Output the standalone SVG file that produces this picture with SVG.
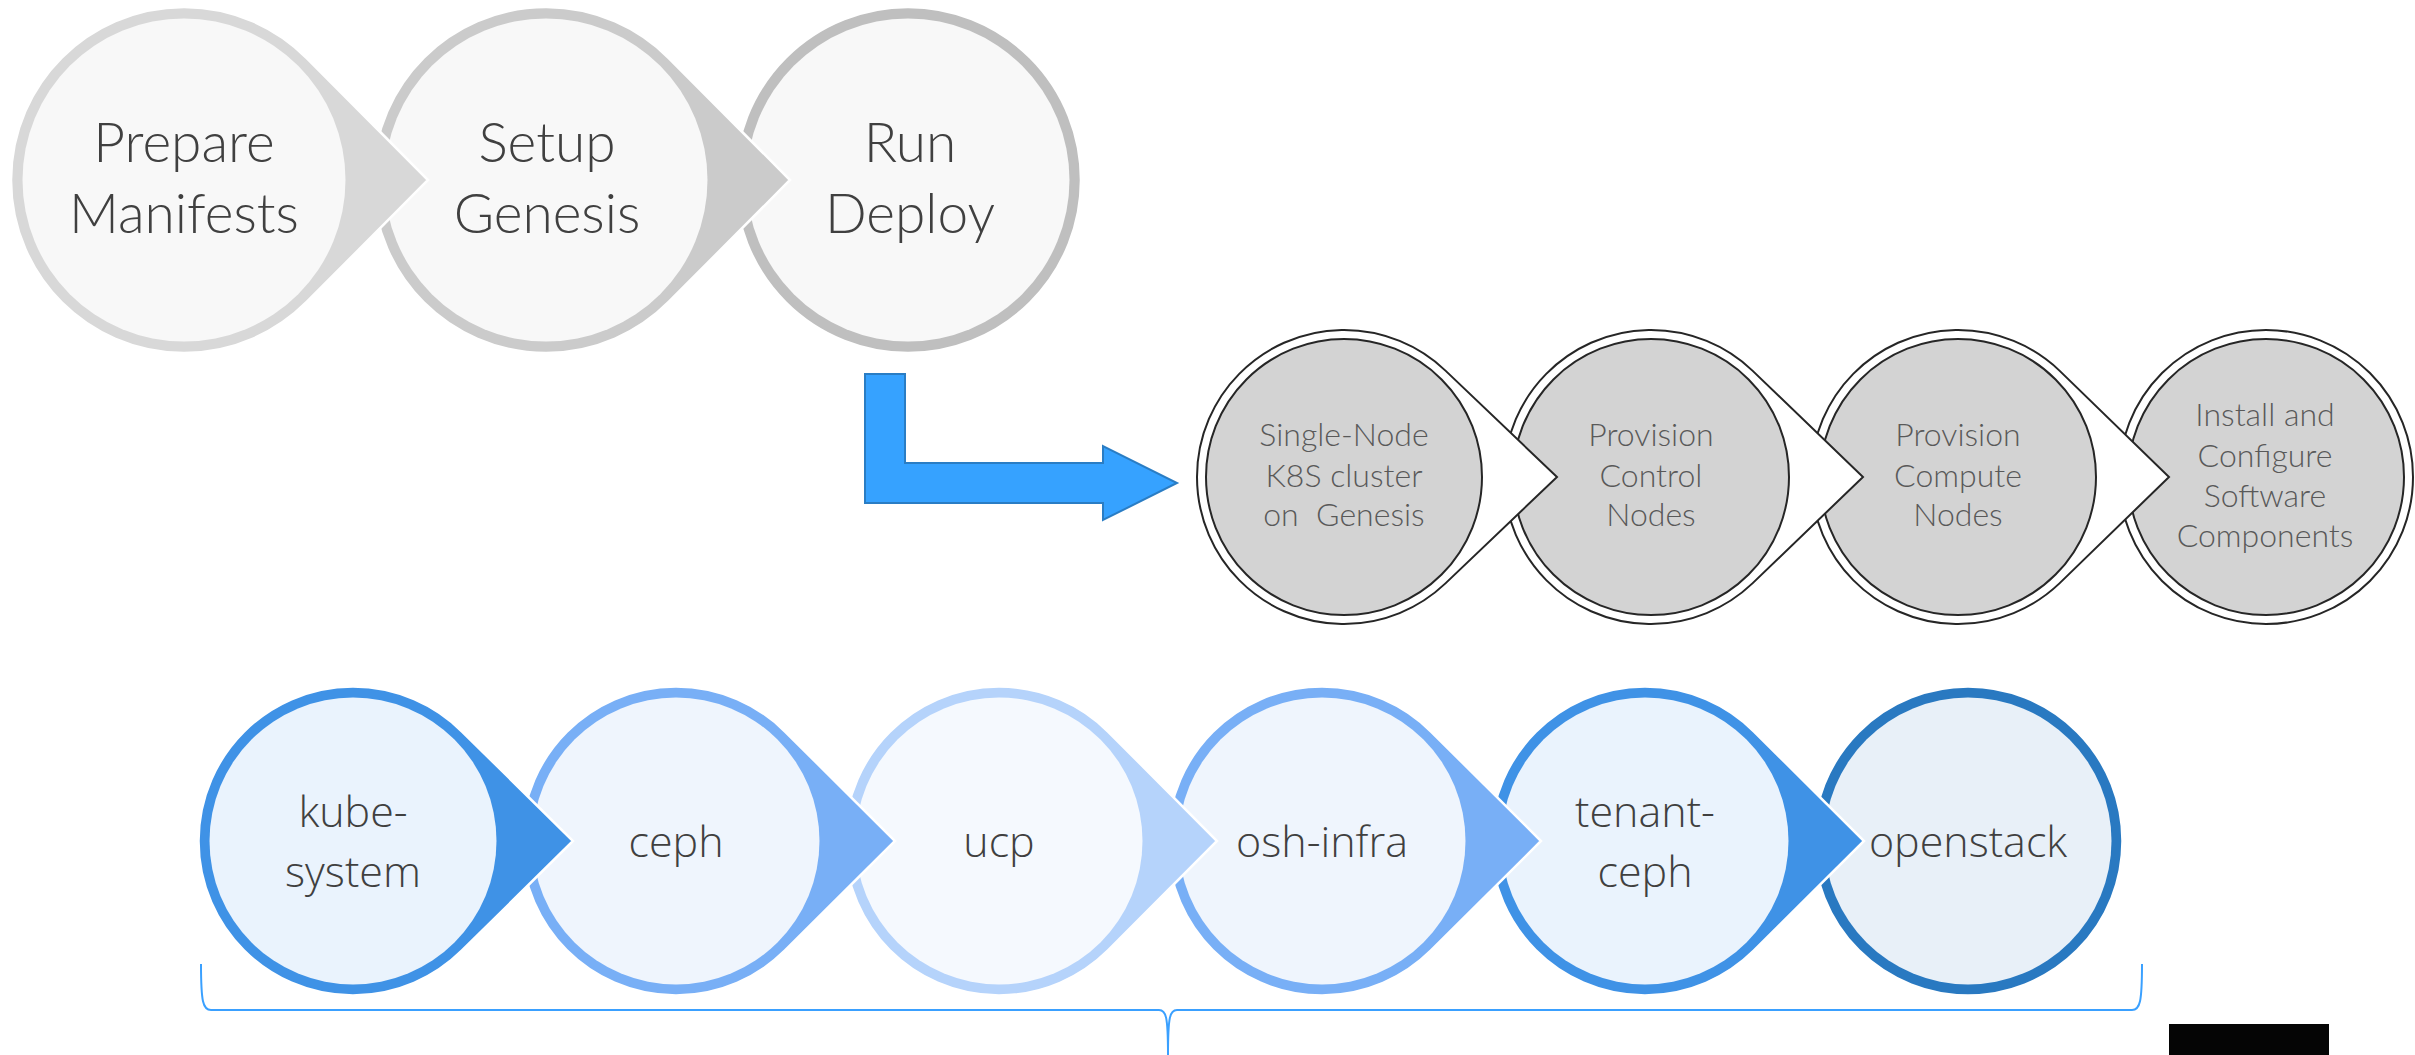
<svg xmlns="http://www.w3.org/2000/svg" width="2415" height="1055" viewBox="0 0 2415 1055">
<style>
  .t1 { font-family: Lato, "Liberation Sans", sans-serif; font-weight: 300; font-size: 55px; fill: #404040; text-anchor: middle; }
  .t2 { font-family: Lato, "Liberation Sans", sans-serif; font-weight: 300; font-size: 32px; fill: #595959; text-anchor: middle; }
  .t3 { font-family: "Open Sans", "Liberation Sans", sans-serif; font-weight: 300; font-size: 43px; fill: #404040; text-anchor: middle; }
  .o1 { stroke: #ffffff; stroke-width: 2.5; }
  .in1 { fill: #f8f8f8; }
  .o2 { fill: #ffffff; stroke: #262626; stroke-width: 2; }
  .in2 { fill: #d3d3d3; stroke: #262626; stroke-width: 2; }
  .o3 { stroke: #ffffff; stroke-width: 2.5; }
</style>
<rect width="2415" height="1055" fill="#ffffff"/>

<!-- Row 1 (drawn right to left so left tips overlap) -->
<g id="run-deploy">
  <circle class="o1" cx="908" cy="180" r="173" fill="#bfbfbf"/>
  <circle class="in1" cx="908" cy="180" r="161.5"/>
  <text class="t1" x="910" y="162">Run</text>
  <text class="t1" x="910" y="233">Deploy</text>
</g>
<g id="setup-genesis">
  <path class="o1" fill="#cbcbcb" d="M668.66,58 L790,180 L668.66,302 A173,173 0 1 1 668.66,58 Z"/>
  <circle class="in1" cx="546" cy="180" r="161.5"/>
  <text class="t1" x="547" y="162">Setup</text>
  <text class="t1" x="547" y="233">Genesis</text>
</g>
<g id="prepare-manifests">
  <path class="o1" fill="#d8d8d8" d="M306.66,58 L428,180 L306.66,302 A173,173 0 1 1 306.66,58 Z"/>
  <circle class="in1" cx="184" cy="180" r="161.5"/>
  <text class="t1" x="184" y="162">Prepare</text>
  <text class="t1" x="184" y="233">Manifests</text>
</g>

<!-- Connectors -->
<g id="connectors">
  <polygon points="865,374 905,374 905,463 1103,463 1103,446 1177,483 1103,520 1103,503 865,503" fill="#36a2ff" stroke="#2a7dc4" stroke-width="2"/>
  <path d="M201,964 C201,1002 203,1010 211,1010 L1159,1010 C1166,1010 1168,1016 1168,1055 M1168,1055 C1168,1016 1170,1010 1177,1010 L2132,1010 C2140,1010 2142,1002 2142,964" fill="none" stroke="#3aa0ff" stroke-width="2"/>
</g>

<!-- Row 2 -->
<g id="install-configure">
  <circle class="o2" cx="2266" cy="477" r="147"/>
  <circle class="in2" cx="2266" cy="477" r="138"/>
  <text class="t2" x="2265" y="426">Install and</text>
  <text class="t2" x="2265" y="467">Configure</text>
  <text class="t2" x="2265" y="507">Software</text>
  <text class="t2" x="2265" y="547">Components</text>
</g>
<g id="provision-compute">
  <path class="o2" d="M2059.45,370.62 L2169,477 L2059.45,583.38 A147,147 0 1 1 2059.45,370.62 Z"/>
  <circle class="in2" cx="1958" cy="477" r="138"/>
  <text class="t2" x="1958" y="446">Provision</text>
  <text class="t2" x="1958" y="487">Compute</text>
  <text class="t2" x="1958" y="526">Nodes</text>
</g>
<g id="provision-control">
  <path class="o2" d="M1752.45,370.62 L1863,477 L1752.45,583.38 A147,147 0 1 1 1752.45,370.62 Z"/>
  <circle class="in2" cx="1651" cy="477" r="138"/>
  <text class="t2" x="1651" y="446">Provision</text>
  <text class="t2" x="1651" y="487">Control</text>
  <text class="t2" x="1651" y="526">Nodes</text>
</g>
<g id="single-node">
  <path class="o2" d="M1445.45,370.62 L1557,477 L1445.45,583.38 A147,147 0 1 1 1445.45,370.62 Z"/>
  <circle class="in2" cx="1344" cy="477" r="138"/>
  <text class="t2" x="1344" y="446">Single-Node</text>
  <text class="t2" x="1344" y="487">K8S cluster</text>
  <text class="t2" x="1344" y="526" xml:space="preserve">on  Genesis</text>
</g>

<!-- Row 3 -->
<g id="openstack">
  <circle class="o3" cx="1968" cy="841" r="154.5" fill="#2979c1"/>
  <circle cx="1968" cy="841" r="143.5" fill="#e8f0f8"/>
  <text class="t3" x="1968" y="857">openstack</text>
</g>
<g id="tenant-ceph">
  <path class="o3" fill="#3f92e6" d="M1754,731.5 L1864,841 L1754,950.5 A154.5,154.5 0 1 1 1754,731.5 Z"/>
  <circle cx="1645" cy="841" r="143.5" fill="#eaf3fd"/>
  <text class="t3" x="1645" y="827">tenant-</text>
  <text class="t3" x="1645" y="887">ceph</text>
</g>
<g id="osh-infra">
  <path class="o3" fill="#78aff6" d="M1431,731.5 L1541,841 L1431,950.5 A154.5,154.5 0 1 1 1431,731.5 Z"/>
  <circle cx="1322" cy="841" r="143.5" fill="#eff5fd"/>
  <text class="t3" x="1322" y="857">osh-infra</text>
</g>
<g id="ucp">
  <path class="o3" fill="#b5d3fb" d="M1108,731.5 L1217,841 L1108,950.5 A154.5,154.5 0 1 1 1108,731.5 Z"/>
  <circle cx="999" cy="841" r="143.5" fill="#f5f9fe"/>
  <text class="t3" x="999" y="857">ucp</text>
</g>
<g id="ceph">
  <path class="o3" fill="#78aff6" d="M785,731.5 L895,841 L785,950.5 A154.5,154.5 0 1 1 785,731.5 Z"/>
  <circle cx="676" cy="841" r="143.5" fill="#eff5fd"/>
  <text class="t3" x="676" y="857">ceph</text>
</g>
<g id="kube-system">
  <path class="o3" fill="#3f92e6" d="M462,731.5 L573,841 L462,950.5 A154.5,154.5 0 1 1 462,731.5 Z"/>
  <circle cx="353" cy="841" r="143.5" fill="#eaf3fd"/>
  <text class="t3" x="353" y="827">kube-</text>
  <text class="t3" x="353" y="887">system</text>
</g>

<rect x="2169" y="1024" width="160" height="31" fill="#050505"/>
</svg>
